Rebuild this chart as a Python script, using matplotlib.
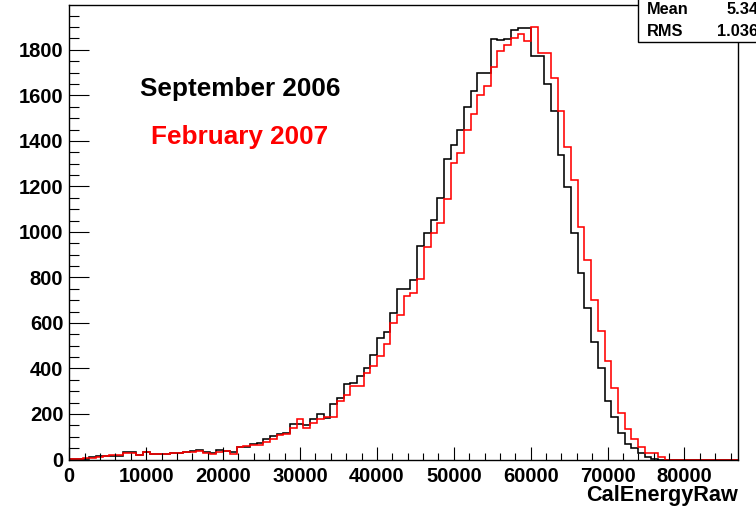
import numpy as np
import matplotlib
matplotlib.use("Agg")
import matplotlib.pyplot as plt
from matplotlib.patches import Rectangle
from matplotlib.ticker import MultipleLocator

plt.rcParams['font.family'] = ['Liberation Sans', 'DejaVu Sans']
plt.rcParams['font.weight'] = 'bold'

# Histogram binning: 100 bins of CalEnergyRaw
x_min, x_max, n_bins = 0, 87000, 100

# Bin contents, September 2006 run
sep2006 = [
    1, 3, 4, 9, 14, 15, 16, 17, 33, 33,
    19, 34, 22, 24, 25, 27, 30, 31, 36, 40,
    33, 28, 40, 39, 34, 55, 56, 70, 72, 88,
    103, 113, 116, 158, 158, 150, 176, 198, 184, 245,
    270, 331, 334, 366, 400, 459, 532, 559, 644, 747,
    751, 788, 938, 997, 1052, 1150, 1320, 1382, 1450, 1550,
    1618, 1700, 1700, 1846, 1842, 1846, 1887, 1894, 1894, 1772,
    1772, 1652, 1530, 1336, 1198, 997, 820, 664, 518, 401,
    259, 186, 116, 70, 50, 28, 12, 3, 0, 0,
    0, 0, 0, 0, 0, 0, 0, 0, 0, 0,
]

# Bin contents, February 2007 run
feb2007 = [
    2, 4, 5, 8, 13, 17, 18, 18, 28, 30,
    19, 31, 22, 24, 25, 27, 30, 34, 33, 38,
    30, 26, 35, 38, 22, 55, 58, 62, 64, 76,
    91, 108, 110, 137, 176, 140, 160, 178, 188, 188,
    258, 283, 322, 322, 378, 410, 454, 507, 598, 634,
    717, 732, 791, 934, 995, 1040, 1143, 1305, 1348, 1450,
    1516, 1600, 1640, 1723, 1797, 1820, 1850, 1868, 1840, 1902,
    1787, 1787, 1677, 1533, 1375, 1230, 1020, 875, 703, 565,
    432, 316, 203, 134, 91, 56, 30, 27, 9, 0,
    0, 0, 0, 0, 0, 0, 0, 0, 0, 0,
]

stats_labels = ["Mean", "RMS"]
stats_values = ["5.34e+04", "1.036e+04"]

W, H = 756, 509
fig = plt.figure(figsize=(W / 100, H / 100), dpi=100)
fig.patch.set_facecolor("white")

def fx(px):
    return px / W

def fy(py):
    return 1 - py / H

ax = fig.add_axes([fx(69.3), fy(459.5), fx(738.3) - fx(69.3), fy(5) - fy(459.5)])

edges = np.linspace(x_min, x_max, n_bins + 1)
ax.stairs(sep2006, edges, color="black", lw=1.15, baseline=0)
ax.stairs(feb2007, edges, color="#ff0000", lw=1.15, baseline=0)

ax.set_xlim(x_min, x_max)
ax.set_ylim(0, 1.05 * max(max(sep2006), max(feb2007)))

ax.xaxis.set_major_locator(MultipleLocator(10000))
ax.xaxis.set_minor_locator(MultipleLocator(2000))
ax.yaxis.set_major_locator(MultipleLocator(200))
ax.yaxis.set_minor_locator(MultipleLocator(50))

ax.tick_params(axis="x", which="major", direction="in", length=9.4, width=0.8,
               labelsize=14.5, pad=5.2, top=False)
ax.tick_params(axis="x", which="minor", direction="in", length=5, width=0.8, top=False)
ax.tick_params(axis="y", which="major", direction="in", length=14.4, width=0.8,
               labelsize=14.5, pad=4.3, right=False)
ax.tick_params(axis="y", which="minor", direction="in", length=7.2, width=0.8, right=False)
for lab in ax.get_xticklabels() + ax.get_yticklabels():
    lab.set_fontweight("bold")

for sp in ax.spines.values():
    sp.set_linewidth(1.0)
    sp.set_color("black")

ax.text(fx(140), fy(96), "September 2006", transform=fig.transFigure,
        fontsize=18.8, fontweight="bold", color="black", ha="left", va="baseline")
ax.text(fx(151), fy(144), "February 2007", transform=fig.transFigure,
        fontsize=18.8, fontweight="bold", color="#ff0000", ha="left", va="baseline")

fig.text(fx(738.3), fy(495.5), "CalEnergyRaw", fontsize=15.6, fontweight="bold",
         ha="right", va="center")

# Statistics box in the upper right corner
box = Rectangle((fx(638.3), fy(41.7)), 0.3, 0.2, transform=fig.transFigure,
                facecolor="white", edgecolor="black", lw=1.0, zorder=5)
fig.patches.append(box)
row_y = [10, 31.7]
value_x = [727, 717]
for lbl, val, yy, vx in zip(stats_labels, stats_values, row_y, value_x):
    fig.text(fx(646.7), fy(yy), lbl, fontsize=11.8, fontweight="bold",
             ha="left", va="center", zorder=6)
    fig.text(fx(vx), fy(yy), val, fontsize=11.8, fontweight="bold",
             ha="left", va="center", zorder=6)

fig.savefig("out.png", dpi=100)
